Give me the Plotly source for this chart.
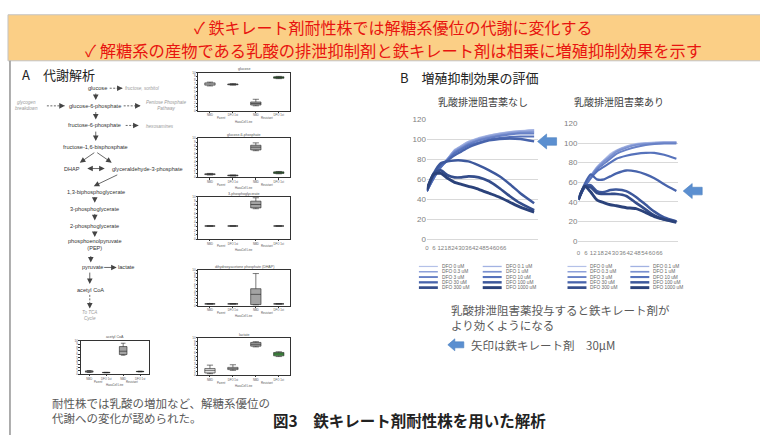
import math
import plotly.graph_objects as go

# ---------------- growth curves (% of control) ----------------
hours_left = [0, 6, 12, 18, 24, 30, 36, 45, 54, 63, 72, 81, 93]
hours_right = [0, 5, 10, 15, 21, 26, 31, 39, 47, 55, 62, 70, 80]
hour_ticks = [0, 6, 12, 18, 24, 30, 36, 42, 48, 54, 60, 66]
dfo_doses = ["0", "0.1", "0.3", "1", "3", "10", "30", "100", "300", "1000"]
dfo_colors = ["#b4c1e8", "#a2b2e2", "#8ea1d9", "#7a90cf", "#6881c6",
              "#5672bb", "#4864ac", "#3d589c", "#344d8b", "#2b427a"]
dfo_widths = [1.2, 1.3, 1.5, 1.7, 1.9, 2.1, 2.3, 2.5, 2.7, 2.9]

# without lactate-export inhibitor
no_inh_0 = [48, 62, 72, 81, 90, 94, 98, 102, 104.5, 106.5, 108, 109, 110]
no_inh_0_1 = [48, 61, 72, 81, 89, 94, 98, 101, 104, 106, 107.5, 108.5, 109.5]
no_inh_0_3 = [49, 62, 73, 81, 89, 93, 97, 101, 103.5, 105.5, 107, 108, 108.5]
no_inh_1 = [48, 61, 72, 80, 88, 92, 96, 100, 102.5, 104.5, 106, 107, 107.5]
no_inh_3 = [49, 62, 72, 80, 87, 91, 95, 99, 101.5, 103.5, 105, 106, 106]
no_inh_10 = [48, 61, 72, 79, 86, 90, 94, 97, 100, 101.5, 102.5, 103, 103]
no_inh_30 = [48, 63, 74, 79, 84, 88, 92, 96, 99, 100.5, 101, 100.5, 98]
no_inh_100 = [49, 66, 76, 78, 79, 79, 78, 74, 69, 63, 55, 46, 36]
no_inh_300 = [49, 66, 69, 64, 62, 62, 63, 62, 58, 51, 43, 36, 29]
no_inh_1000 = [50, 65, 66, 61, 57, 55, 53, 50, 46, 42, 37, 32, 27]

# with lactate-export inhibitor
inh_0 = [42, 56, 67, 76, 83, 89, 93, 97, 99.5, 100.5, 101, 101.5, 101.5]
inh_0_1 = [43, 56, 67, 75, 83, 88, 92, 96.5, 99, 100, 100.5, 101, 101]
inh_0_3 = [42, 55, 66, 75, 82, 87, 92, 96, 98.5, 99.5, 100, 100.5, 100.5]
inh_1 = [43, 55, 66, 74, 81, 86, 91, 95, 98, 99, 99.5, 100, 100]
inh_3 = [42, 55, 65, 73, 79, 84, 89, 93, 96, 98, 99, 99.5, 99.5]
inh_10 = [42, 55, 64, 71, 76, 80, 84, 87, 89, 90, 90, 88, 84]
inh_30 = [42, 58, 68, 63, 63, 66, 69, 72, 71, 68, 64, 58, 51]
inh_100 = [43, 56, 57, 51, 50, 52, 52.5, 51, 45, 37, 30, 24, 20]
inh_300 = [43, 55, 55, 49, 48, 48, 48, 46, 39, 32, 26, 22, 20]
inh_1000 = [42, 56, 50, 42, 39, 37, 36, 34, 33, 29, 25, 22, 19]

no_inh_series = [no_inh_0, no_inh_0_1, no_inh_0_3, no_inh_1, no_inh_3,
                 no_inh_10, no_inh_30, no_inh_100, no_inh_300, no_inh_1000]
inh_series = [inh_0, inh_0_1, inh_0_3, inh_1, inh_3,
              inh_10, inh_30, inh_100, inh_300, inh_1000]

# ---------------- metabolite box plots (lo, q1, median, q3, hi) ----------------
cell_lines = ["NBD", "DFO 1st", "NBD", "DFO 1st"]
cell_groups = ["Parent", "Resistant"]
box_fill = ["#e3e3e3", "#e3e3e3", "#a3a3a3", "#45a045"]

glucose_stats = [(6.5, 6.7, 7.0, 7.3, 7.5), (6.7, 6.8, 6.9, 7.0, 7.1),
                 (1.3, 1.5, 1.9, 2.3, 3.0), (8.4, 8.5, 8.7, 8.9, 9.0)]
g6p_stats = [(0.6, 0.7, 0.8, 0.9, 1.0), (0.35, 0.4, 0.5, 0.55, 0.6),
             (6.8, 7.0, 7.7, 8.2, 8.8), (0.9, 1.0, 1.2, 1.4, 1.5)]
pg3_stats = [(3.1, 3.1, 3.1, 3.1, 3.1), (3.1, 3.1, 3.1, 3.1, 3.1),
             (7.2, 7.4, 8.2, 9.0, 9.8), (3.1, 3.1, 3.1, 3.1, 3.1)]
dhap_stats = [(0.5, 0.5, 0.5, 0.5, 0.5), (0.5, 0.5, 0.5, 0.5, 0.5),
              (0.2, 0.3, 3.2, 4.8, 9.1), (0.5, 0.5, 0.5, 0.5, 0.5)]
lactate_stats = [(0.4, 0.6, 1.3, 1.8, 2.7), (1.3, 1.5, 1.8, 2.1, 2.8),
                 (7.6, 7.8, 8.3, 8.8, 9.0), (5.0, 5.2, 5.7, 6.1, 6.3)]
acetyl_stats = [(0.5, 0.6, 0.8, 1.0, 1.1), (0.45, 0.45, 0.5, 0.55, 0.55),
                (5.7, 5.9, 6.9, 8.3, 9.3), (0.7, 0.75, 0.8, 0.85, 0.9)]

W, H = 760, 436
JP = "Noto Sans CJK JP"
LAT = "Liberation Sans, Arial, sans-serif"


def xp(x):
    return x / W


def yp(y):
    return 1 - y / H


fig = go.Figure()
shapes = []
ann = []
layout_axes = {}


def text(t, x, y, size, color, family=LAT, xanchor="center", **kw):
    ann.append(dict(text=t, x=xp(x), y=yp(y), xref="paper", yref="paper",
                    showarrow=False, xanchor=xanchor, yanchor="middle",
                    font=dict(size=size, color=color, family=family), **kw))


def arrow(x0, y0, x1, y1, dashed=False, both=False, color="#444"):
    if dashed:
        shapes.append(dict(type="line", xref="paper", yref="paper",
                           x0=xp(x0), y0=yp(y0), x1=xp(x1), y1=yp(y1),
                           line=dict(color=color, width=0.8, dash="2px,1.5px")))
        dx, dy = x1 - x0, y1 - y0
        n = math.hypot(dx, dy)
        ann.append(dict(text="", x=xp(x1), y=yp(y1), xref="paper", yref="paper",
                        ax=-dx / n * 3, ay=-dy / n * 3, showarrow=True,
                        arrowhead=2, arrowsize=1.4, arrowwidth=0.8, arrowcolor=color))
    else:
        ann.append(dict(text="", x=xp(x1), y=yp(y1), xref="paper", yref="paper",
                        ax=x0 - x1, ay=y0 - y1, showarrow=True,
                        arrowhead=2, arrowsize=1.4, arrowwidth=0.8, arrowcolor=color,
                        arrowside="end+start" if both else "end"))


# ---------------- slide frame & banner ----------------
shapes.append(dict(type="rect", xref="paper", yref="paper", x0=xp(6), x1=xp(762),
                   y0=yp(58), y1=yp(11), fillcolor="#fbcf86",
                   line=dict(color="#c4c4c4", width=1), layer="below"))
shapes.append(dict(type="line", xref="paper", yref="paper", x0=xp(8), x1=xp(8),
                   y0=yp(58), y1=yp(440), line=dict(color="#9a9a9a", width=1.6)))

text("✓ 鉄キレート剤耐性株では解糖系優位の代謝に変化する", 393, 23.5, 16, "#e8140f", JP)
text("✓ 解糖系の産物である乳酸の排泄抑制剤と鉄キレート剤は相乗に増殖抑制効果を示す",
     393, 46.5, 16.3, "#e8140f", JP)

text("A　代謝解析", 18, 72, 13, "#222222", JP, xanchor="left")
text("B　増殖抑制効果の評価", 397, 75, 13, "#222222", JP, xanchor="left")

# ---------------- glycolysis pathway ----------------
path_main = [("glucose", 96, 86), ("glucose-6-phosphate", 93, 104),
             ("fructose-6-phosphate", 93, 124), ("fructose-1,6-bisphosphate", 94, 146),
             ("DHAP", 70, 168), ("glyceraldehyde-3-phosphate", 146, 168),
             ("1,3-biphosphoglycerate", 94, 192), ("3-phosphoglycerate", 93, 209),
             ("2-phosphoglycerate", 93, 227), ("phosphoenolpyruvate<br>(PEP)", 93, 246),
             ("pyruvate", 91, 269), ("lactate", 124, 269), ("acetyl CoA", 89, 292)]
path_side = [("fructose, sorbitol", 141, 86), ("glycogen<br>breakdown", 25, 104),
             ("Pentose Phosphate<br>Pathway", 165, 104), ("hexosamines", 158, 125),
             ("To TCA<br>Cycle", 88, 318)]
for t, x, y in path_main:
    text(t, x, y, 5.6, "#333333")
for t, x, y in path_side:
    text("<i>" + t + "</i>", x, y, 4.6, "#9a9a9a")

arrow(94, 90, 94, 98)
arrow(94, 109, 94, 118)
arrow(94, 129, 94, 140)
arrow(94, 151, 78, 162)
arrow(94, 151, 110, 162)
arrow(84, 168, 103, 168, both=True)
arrow(117, 174, 92, 186)
arrow(93, 196, 93, 203)
arrow(93, 213, 93, 221)
arrow(93, 231, 93, 238)
arrow(89, 256, 89, 264)
arrow(101, 269, 115, 269)
arrow(88, 273, 88, 286)
arrow(88, 297, 88, 311, dashed=True)
arrow(108, 86, 121, 86, dashed=True)
arrow(45, 104, 63, 104, dashed=True)
arrow(122, 104, 139, 104, dashed=True)
arrow(124, 124, 137, 124, dashed=True)

# ---------------- metabolite box plots ----------------
box_panels = [
    ("glucose", glucose_stats, (197, 289), (70, 109)),
    ("glucose-6-phosphate", g6p_stats, (197, 289), (137, 177)),
    ("3-phosphoglycerate", pg3_stats, (197, 289), (197, 240)),
    ("dihydroxyacetone phosphate (DHAP)", dhap_stats, (197, 289), (272, 308)),
    ("lactate", lactate_stats, (197, 289), (341, 379)),
    ("acetyl CoA", acetyl_stats, (79, 147), (344, 378)),
]
for k, (title, stats, (x0, x1), (ytop, ybot)) in enumerate(box_panels, start=1):
    xa, ya = f"x{k}", f"y{k}"
    for i, (lo, q1, med, q3, hi) in enumerate(stats):
        fig.add_trace(go.Box(x=[i], lowerfence=[lo], q1=[q1], median=[med], q3=[q3],
                             upperfence=[hi], xaxis=xa, yaxis=ya, width=0.45,
                             whiskerwidth=0.6, fillcolor=box_fill[i],
                             line=dict(color="#222222", width=0.6),
                             boxpoints=False, showlegend=False, hoverinfo="skip"))
    kx = "xaxis" if k == 1 else f"xaxis{k}"
    ky = "yaxis" if k == 1 else f"yaxis{k}"
    layout_axes[kx] = dict(domain=[xp(x0), xp(x1)], anchor=ya, range=[-0.5, 3.5],
                           tickvals=[0, 1, 2, 3], ticktext=cell_lines, showgrid=False,
                           zeroline=False, showline=True, mirror=True, linecolor="#333",
                           linewidth=0.6, ticks="outside", ticklen=1.5, tickwidth=0.5,
                           tickcolor="#333", tickfont=dict(size=2.8, color="#555"))
    layout_axes[ky] = dict(domain=[yp(ybot), yp(ytop)], anchor=xa, range=[0, 10],
                           dtick=1, showgrid=False, zeroline=False, showline=True,
                           mirror=True, linecolor="#333", linewidth=0.6, ticks="outside",
                           ticklen=1.5, tickwidth=0.5, tickcolor="#333",
                           tickfont=dict(size=3, color="#555"))
    text(title, (x0 + x1) / 2, ytop - 3.5, 3.6, "#555555")
    for gi, g in enumerate(cell_groups):
        ann.append(dict(text=g, x=0.5 + 2 * gi, y=yp(ybot + 7.6), xref=xa, yref="paper",
                        showarrow=False, yanchor="middle",
                        font=dict(size=2.8, color="#555", family=LAT)))
    text("HaxaCell Line", (x0 + x1) / 2, ybot + 11, 2.8, "#555555")

# ---------------- growth-curve charts ----------------
line_panels = [
    (7, "乳酸排泄阻害薬なし", hours_left, no_inh_series, (426, 537), (118, 240),
     [0, 96], 482, 418, 64, 3, 537),
    (8, "乳酸排泄阻害薬あり", hours_right, inh_series, (578, 678), (122, 242),
     [0, 81.5], 619, 567, 63, 6, 683),
]
for (k, title, hrs, series, (x0, x1), (ytop, ybot), xr, tx, lx, lcol, tlen,
     arrow_x) in line_panels:
    xa, ya = f"x{k}", f"y{k}"
    for i, vals in enumerate(series):
        fig.add_trace(go.Scatter(x=hrs, y=vals, mode="lines", xaxis=xa, yaxis=ya,
                                 line=dict(color=dfo_colors[i], width=dfo_widths[i],
                                           shape="spline", smoothing=0.6),
                                 name=f"DFO {dfo_doses[i]} uM", showlegend=False,
                                 hoverinfo="skip"))
    layout_axes[f"xaxis{k}"] = dict(domain=[xp(x0), xp(x1)], anchor=ya, range=xr,
                                    tickvals=hour_ticks, tickangle=0, showgrid=False,
                                    zeroline=False, showline=False, ticks="outside",
                                    ticklen=tlen, tickcolor="rgba(0,0,0,0)",
                                    tickfont=dict(size=6, color="#808080", family=LAT))
    layout_axes[f"yaxis{k}"] = dict(domain=[yp(ybot), yp(ytop)], anchor=xa, range=[0, 120],
                                    dtick=20, showgrid=True, gridcolor="#d9d9d9",
                                    gridwidth=0.8, zeroline=True, zerolinecolor="#d9d9d9",
                                    zerolinewidth=0.8, showline=False,
                                    tickfont=dict(size=8, color="#808080", family=LAT))
    text(title, tx, 100, 10, "#404040", JP)
    # arrow marking the 30 uM curve end
    shapes.append(dict(type="path", xref="paper", yref=ya, xsizemode="pixel",
                       ysizemode="pixel", xanchor=xp(arrow_x), yanchor=series[6][-1],
                       path="M0,0 L9,7.5 L9,3.8 L19,3.8 L19,-3.8 L9,-3.8 L9,-7.5 Z",
                       fillcolor="#5b8fd0", line=dict(color="#4a7fc0", width=0.6)))
    # legend, two columns
    for i, dose in enumerate(dfo_doses):
        cx = lx + (i % 2) * lcol
        cy = 268 + (i // 2) * 5.4
        shapes.append(dict(type="line", xref="paper", yref="paper", x0=xp(cx),
                           x1=xp(cx + 19), y0=yp(cy), y1=yp(cy),
                           line=dict(color=dfo_colors[i], width=dfo_widths[i])))
        text(f"DFO {dose} uM", cx + 21, cy, 4.8, "#666666", xanchor="left")

# ---------------- captions ----------------
text("乳酸排泄阻害薬投与すると鉄キレート剤が<br>より効くようになる", 448, 320.5, 11.5,
     "#595959", JP, xanchor="left", align="left")
text("矢印は鉄キレート剤　30μM", 468, 348, 11.5, "#595959", JP, xanchor="left")
shapes.append(dict(type="path", xref="paper", yref="paper", xsizemode="pixel",
                   ysizemode="pixel", xanchor=xp(447), yanchor=yp(348),
                   path="M0,0 L7,6 L7,3 L16,3 L16,-3 L7,-3 L7,-6 Z",
                   fillcolor="#5b8fd0", line=dict(color="#4a7fc0", width=0.6)))

text("耐性株では乳酸の増加など、解糖系優位の<br>代謝への変化が認められた。", 48, 415,
     11.5, "#595959", JP, xanchor="left", align="left")
text("<b>図3　鉄キレート剤耐性株を用いた解析</b>", 409, 425, 15.5, "#222222", JP)

fig.update_layout(width=W, height=H, margin=dict(l=0, r=0, t=0, b=0),
                  paper_bgcolor="white", plot_bgcolor="white",
                  showlegend=False, shapes=shapes, annotations=ann,
                  font=dict(family=LAT), **layout_axes)
fig.write_html("out.html")
